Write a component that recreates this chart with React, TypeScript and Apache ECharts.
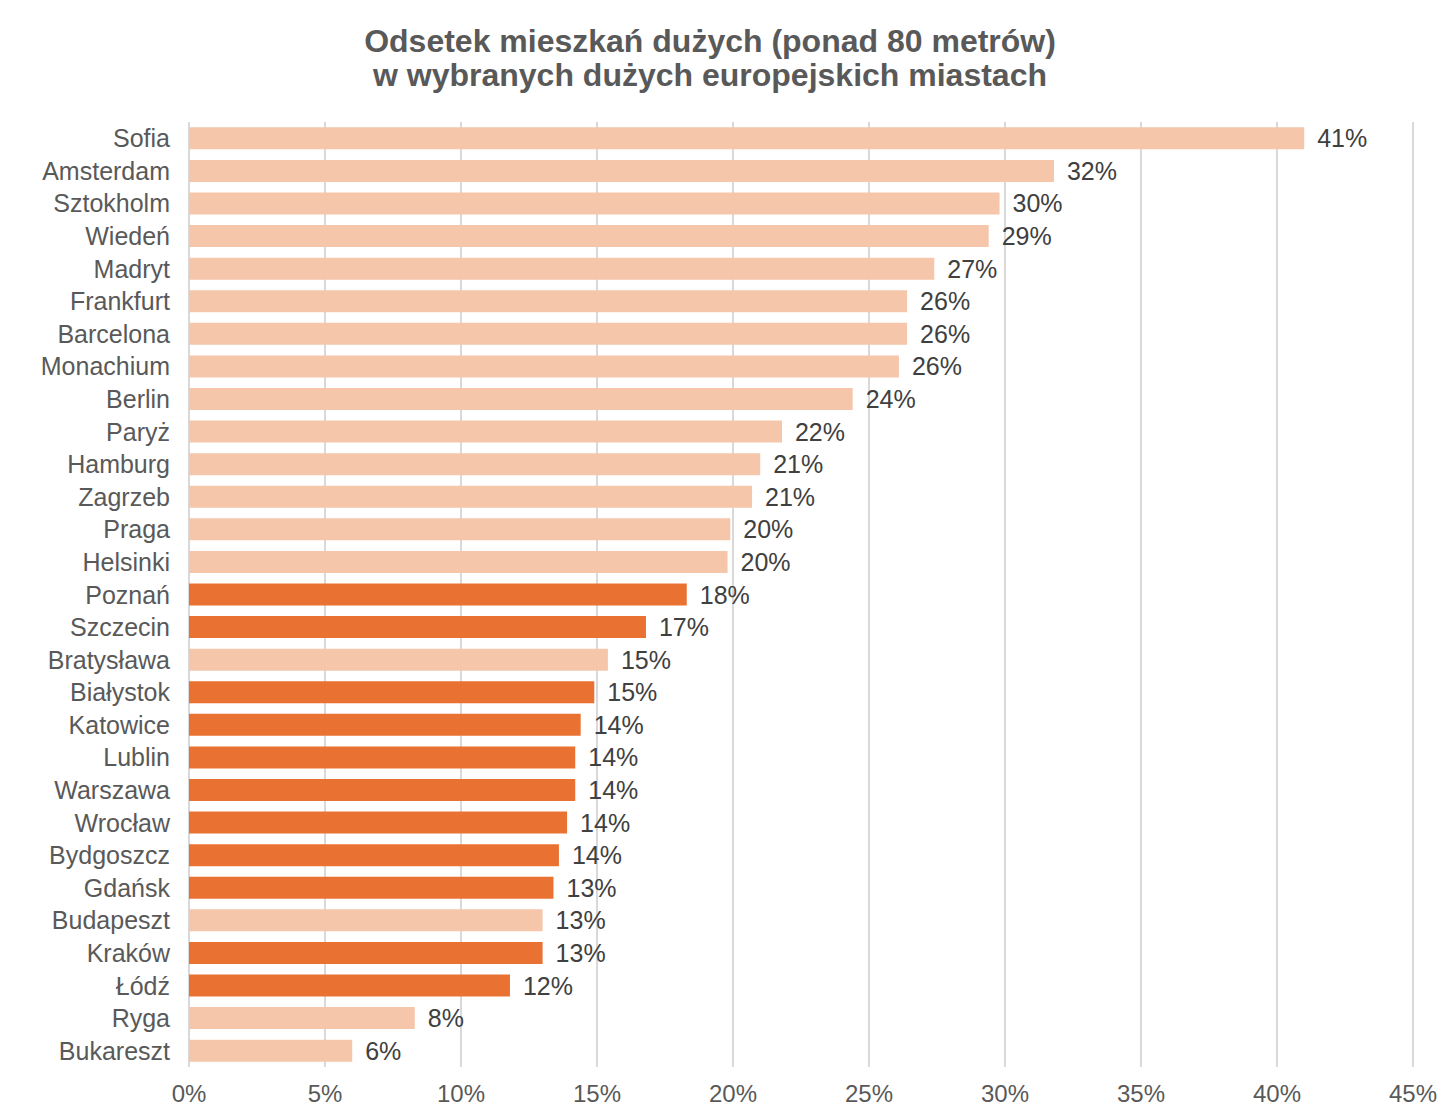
import React, { useEffect, useRef } from "react";
import * as echarts from "echarts";

const categories = [
  "Sofia", "Amsterdam", "Sztokholm", "Wiedeń", "Madryt", "Frankfurt", "Barcelona",
  "Monachium", "Berlin", "Paryż", "Hamburg", "Zagrzeb", "Praga", "Helsinki",
  "Poznań", "Szczecin", "Bratysława", "Białystok", "Katowice", "Lublin", "Warszawa",
  "Wrocław", "Bydgoszcz", "Gdańsk", "Budapeszt", "Kraków", "Łódź", "Ryga", "Bukareszt",
];

const values = [
  41.0, 31.8, 29.8, 29.4, 27.4, 26.4, 26.4, 26.1, 24.4, 21.8, 21.0, 20.7, 19.9, 19.8,
  18.3, 16.8, 15.4, 14.9, 14.4, 14.2, 14.2, 13.9, 13.6, 13.4, 13.0, 13.0, 11.8, 8.3, 6.0,
];

const polishCities = [
  "Poznań", "Szczecin", "Białystok", "Katowice", "Lublin", "Warszawa",
  "Wrocław", "Bydgoszcz", "Gdańsk", "Kraków", "Łódź",
];

const xTicks = [0, 5, 10, 15, 20, 25, 30, 35, 40, 45];

const titleLines = [
  "Odsetek mieszkań dużych (ponad 80 metrów)",
  "w wybranych dużych europejskich miastach",
];

const COLOR_OTHER = "#F5C6AA";
const COLOR_PL = "#E97132";
const FONT = '"Liberation Sans", Arial, Helvetica, sans-serif';

export default function App() {
  const ref = useRef<HTMLDivElement>(null);

  useEffect(() => {
    if (!ref.current) return;
    const chart = echarts.init(ref.current, undefined, { renderer: "svg" });
    chart.setOption({
      animation: false,
      backgroundColor: "#ffffff",
      textStyle: { fontFamily: FONT },
      graphic: titleLines.map((line, i) => ({
        type: "text",
        x: 710,
        y: 41 + i * 34,
        style: {
          text: line,
          fill: "#595959",
          font: `bold 32px ${FONT}`,
          align: "center",
          verticalAlign: "middle",
          textAlign: "center",
          textVerticalAlign: "middle",
        },
      })),
      grid: { left: 189, right: 43, top: 122, bottom: 51, containLabel: false },
      xAxis: {
        type: "value",
        min: 0,
        max: 45,
        interval: 5,
        axisLine: { show: false },
        axisTick: { show: false },
        splitLine: { show: true, lineStyle: { color: "#D9D9D9", width: 2 } },
        axisLabel: {
          formatter: (v: number) => `${v}%`,
          color: "#595959",
          fontSize: 24,
          margin: 14,
          fontFamily: FONT,
          customValues: xTicks,
        },
      },
      yAxis: {
        type: "category",
        data: categories,
        inverse: true,
        axisLine: { show: false },
        axisTick: { show: false },
        splitLine: { show: false },
        axisLabel: { color: "#595959", fontSize: 25, margin: 19, fontFamily: FONT },
      },
      series: [
        {
          type: "bar",
          barWidth: 22,
          data: values.map((v, i) => ({
            value: v,
            itemStyle: { color: polishCities.includes(categories[i]) ? COLOR_PL : COLOR_OTHER },
          })),
          label: {
            show: true,
            position: "right",
            distance: 13,
            color: "#404040",
            fontSize: 25,
            fontFamily: FONT,
            formatter: (p: any) => `${Math.round(p.value)}%`,
          },
        },
      ],
    });
    return () => chart.dispose();
  }, []);

  return (
    <div
      ref={ref}
      style={{ position: "absolute", left: 0, top: 0, width: 1456, height: 1118 }}
    />
  );
}
